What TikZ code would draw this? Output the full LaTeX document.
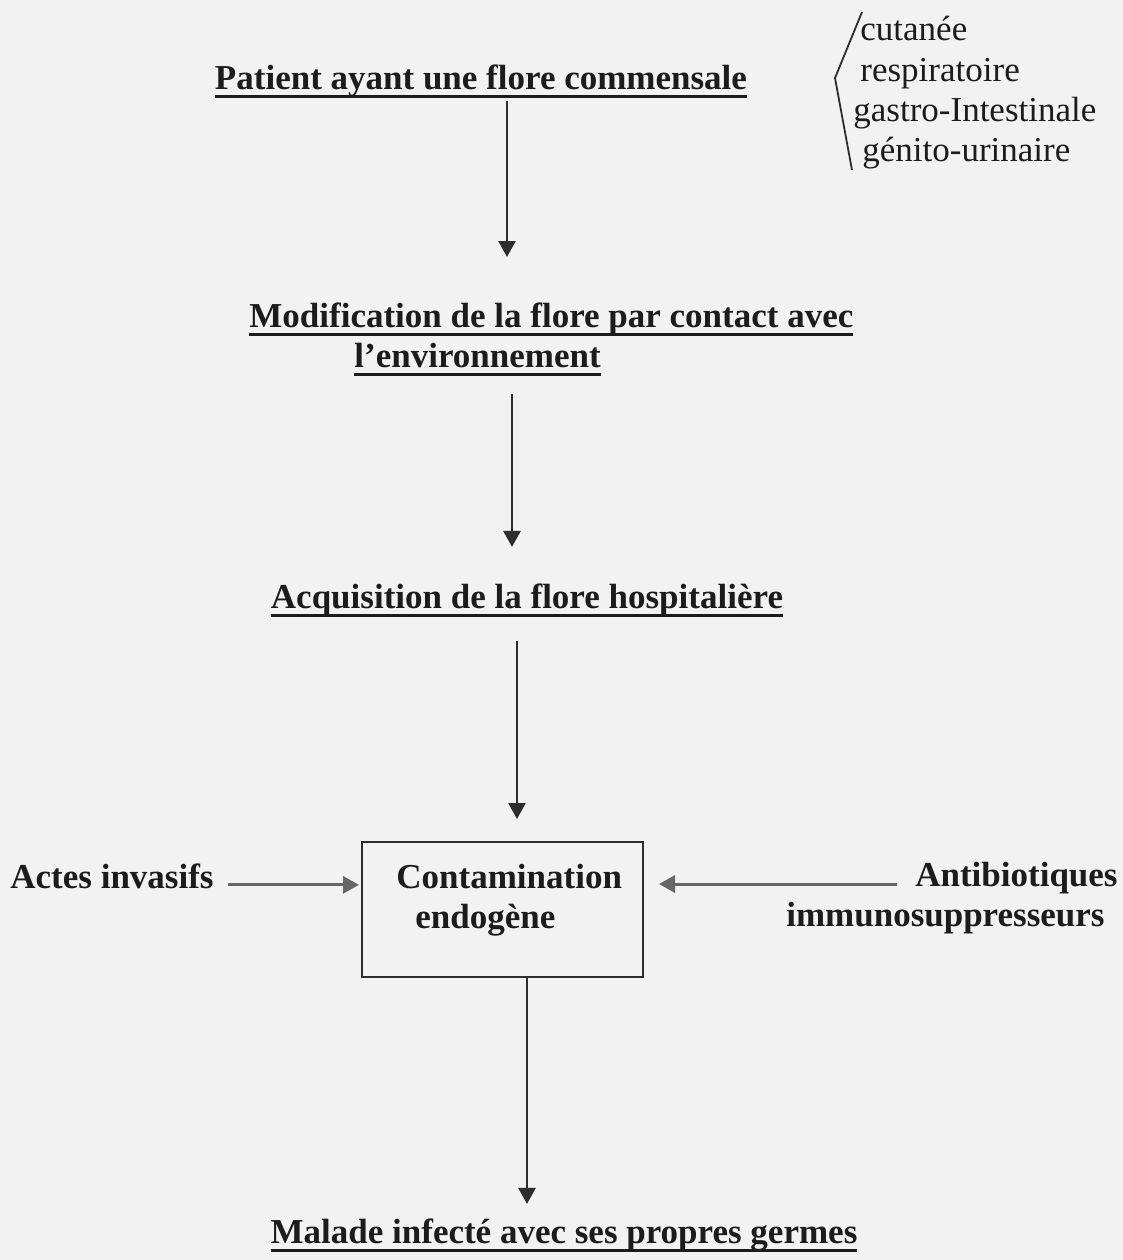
\documentclass[tikz,border=0pt]{standalone}
\usepackage{fontspec}
\setmainfont{Liberation Serif}
\usepackage{tikz}
\usetikzlibrary{positioning,arrows.meta}
\definecolor{fond}{RGB}{242,242,242}
\definecolor{encre}{RGB}{28,28,28}
\definecolor{trait}{RGB}{45,45,45}
\newcommand\souligne[1]{\setbox0=\hbox{#1}\rlap{\rule[-4.7pt]{\wd0}{1.7pt}}\box0}

\begin{document}
\begin{tikzpicture}[x=0.5pt,y=-0.5pt,>={Triangle[length=8pt,width=8.5pt]},
  titre/.style={inner sep=0pt,font=\fontsize{17.5}{20}\selectfont\bfseries,text=encre},
  liste/.style={inner sep=0pt,align=left,font=\fontsize{17.5}{20.2}\selectfont,text=encre},
  boite/.style={draw=trait,line width=1pt,minimum width=140.5pt,minimum height=67.5pt,inner sep=0pt},
  fl/.style={->,draw=trait,line width=1.2pt},
  flh/.style={->,draw=black!60,line width=1.5pt}]
  \fill[fond] (0,0) rectangle (1123,1260);
  \useasboundingbox (0,0) rectangle (1123,1260);
  % chaine principale
  \node[titre,anchor=base] (pat) at (481,89) {\souligne{Patient ayant une flore commensale}};
  \node[liste,anchor=north west] (sites) at (860,16) {cutanée\\respiratoire\\[-0.2pt]\hspace*{-3.5pt}gastro-Intestinale\\\hspace*{1pt}génito-urinaire};
  \node[titre,align=left,anchor=north west] (mod) at (249,302)
    {\souligne{Modification de la flore par contact avec}\\\hspace*{52.5pt}\souligne{l’environnement}};
  \node[titre,anchor=base] (acq) at (527,608) {\souligne{Acquisition de la flore hospitalière}};
  \node[boite] (endo) at (502.5,909.5) {};
  \node[titre,align=left,anchor=north west] (endotxt) at (396,864) {Contamination\\\hspace*{9.5pt}endogène};
  \node[titre,anchor=base west] (actes) at (10,888) {Actes invasifs};
  \node[titre,align=right,anchor=north east] (anti) at (1118,862) {Antibiotiques\\immunosuppresseurs\hspace*{6.5pt}};
  \node[titre,anchor=base] (mal) at (564,1243) {\souligne{Malade infecté avec ses propres germes}};
  \coordinate (depart) at (897,884);
  % accolade
  \draw[trait,line width=0.9pt] ([xshift=1pt,yshift=2pt]sites.north west) -- ++(-27,66) -- ++(17,92);
  % fleches
  \draw[fl,shorten <=1pt,shorten >=22.5pt] ([xshift=13pt]pat.south) -- ([xshift=13pt]pat.south |- mod.north);
  \draw[fl,shorten <=8.5pt,shorten >=18pt] ([xshift=131.5pt]mod.south west) -- ([xshift=131.5pt]mod.south west |- acq.north);
  \draw[fl,shorten <=11.5pt,shorten >=11pt] ([xshift=-5pt]acq.south) -- ([xshift=-5pt]acq.south |- endo.north);
  \draw[flh,shorten <=7pt,shorten >=1pt] ([yshift=-4.5pt]actes.east) -- ([yshift=-4.5pt]actes.east -| endo.west);
  \draw[flh,shorten >=7.5pt] (depart) -- (depart -| endo.east);
  \draw[fl,shorten >=7pt] ([xshift=12.25pt]endo.south) -- ([xshift=12.25pt]endo.south |- mal.north);
\end{tikzpicture}
\end{document}
